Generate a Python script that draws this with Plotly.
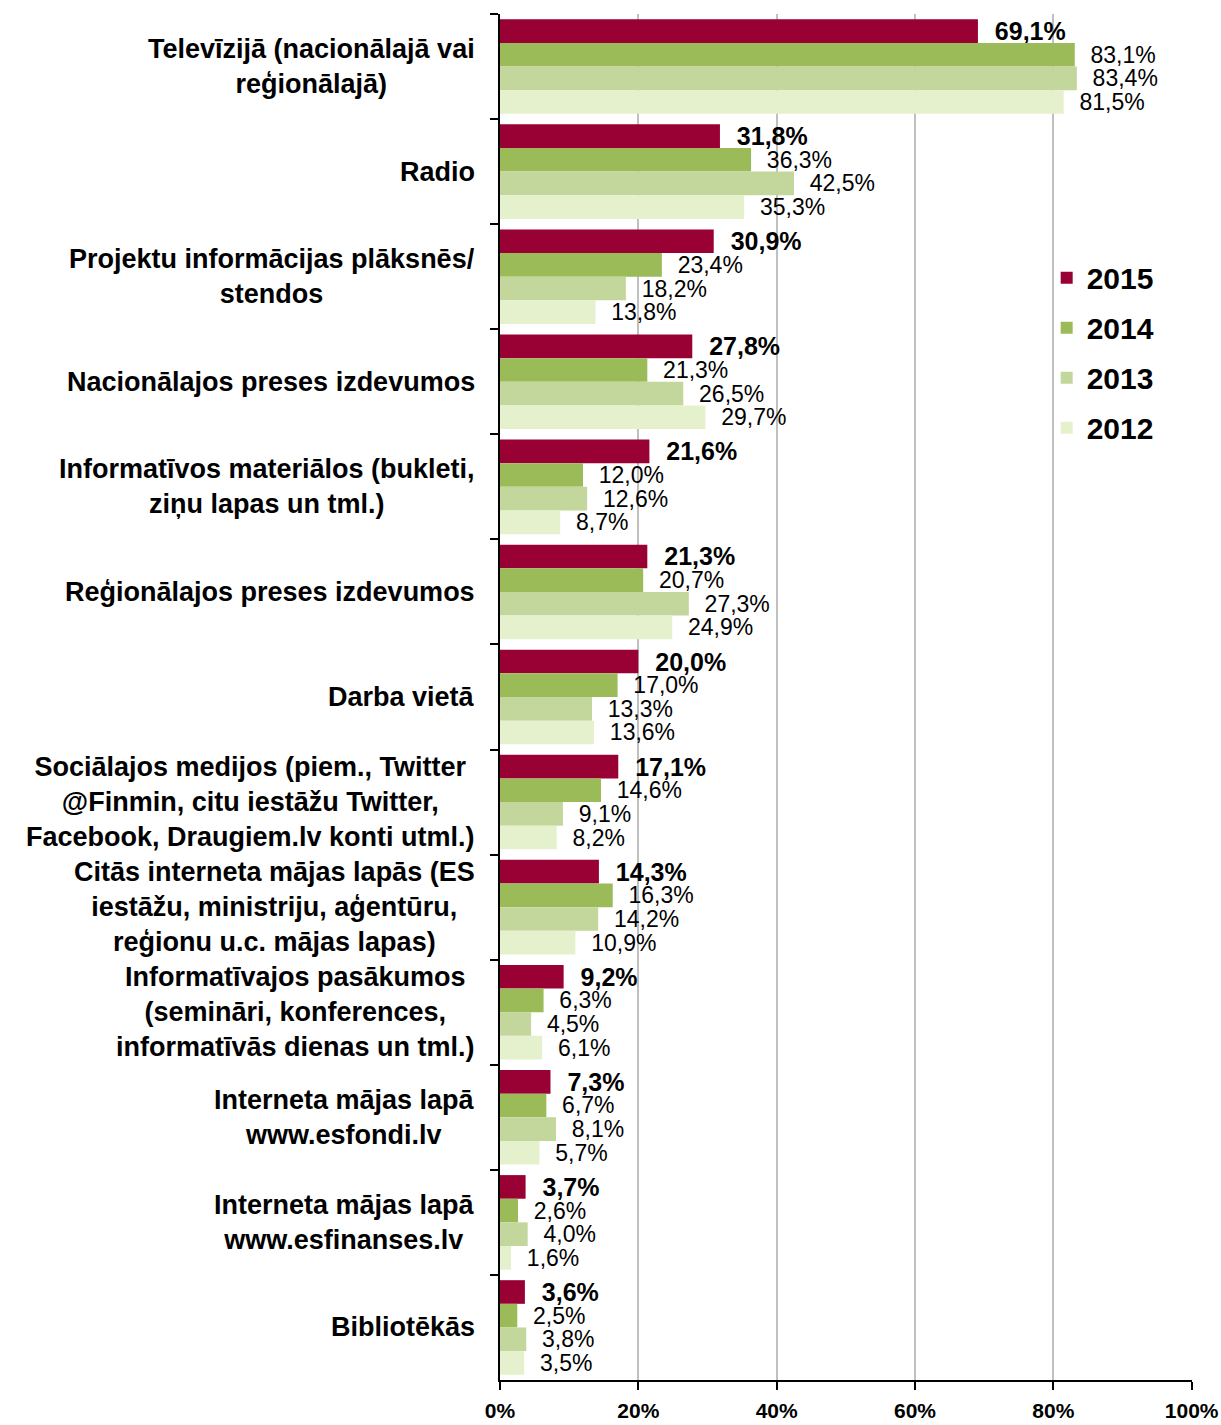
import plotly.graph_objects as go

categories = [
    "Televīzijā (nacionālajā vai<br>reģionālajā)",
    "Radio",
    "Projektu informācijas plāksnēs/<br>stendos",
    "Nacionālajos preses izdevumos",
    "Informatīvos materiālos (bukleti,<br>ziņu lapas un tml.)",
    "Reģionālajos preses izdevumos",
    "Darba vietā",
    "Sociālajos medijos (piem., Twitter<br>@Finmin, citu iestāžu Twitter,<br>Facebook, Draugiem.lv konti utml.)",
    "Citās interneta mājas lapās (ES<br>iestāžu, ministriju, aģentūru,<br>reģionu u.c. mājas lapas)",
    "Informatīvajos pasākumos<br>(semināri, konferences,<br>informatīvās dienas un tml.)",
    "Interneta mājas lapā<br>www.esfondi.lv",
    "Interneta mājas lapā<br>www.esfinanses.lv",
    "Bibliotēkās",
]

years = ["2015", "2014", "2013", "2012"]
v2015 = [69.1, 31.8, 30.9, 27.8, 21.6, 21.3, 20.0, 17.1, 14.3, 9.2, 7.3, 3.7, 3.6]
v2014 = [83.1, 36.3, 23.4, 21.3, 12.0, 20.7, 17.0, 14.6, 16.3, 6.3, 6.7, 2.6, 2.5]
v2013 = [83.4, 42.5, 18.2, 26.5, 12.6, 27.3, 13.3, 9.1, 14.2, 4.5, 8.1, 4.0, 3.8]
v2012 = [81.5, 35.3, 13.8, 29.7, 8.7, 24.9, 13.6, 8.2, 10.9, 6.1, 5.7, 1.6, 3.5]
series = [v2015, v2014, v2013, v2012]
colors = ["#990033", "#9BBB59", "#C3D69B", "#E4F1CC"]

x_ticks = [0, 20, 40, 60, 80, 100]

FONT = "Liberation Sans, Arial, sans-serif"

def fmt(v):
    return ("%.1f" % v).replace(".", ",") + "%"

fig = go.Figure()
for i, (yr, vals, col) in enumerate(zip(years, series, colors)):
    if i == 0:
        texts = ["  <b>" + fmt(v) + "</b>" for v in vals]
        tf = dict(family=FONT, size=25, color="black")
    else:
        texts = ["  " + fmt(v) for v in vals]
        tf = dict(family=FONT, size=23, color="black")
    fig.add_trace(go.Bar(
        y=categories, x=vals, orientation="h", name=yr,
        marker=dict(color=col, line=dict(width=0)),
        text=texts, textposition="outside", outsidetextfont=tf,
        constraintext="none", cliponaxis=False,
        legendgroup=yr, hoverinfo="skip",
    ))

annotations = []
for c in categories:
    annotations.append(dict(
        x=-0.033, xref="paper", y=c, yref="y", text="<b>" + c + "</b>",
        showarrow=False, xanchor="right", yanchor="middle", align="center",
        font=dict(family=FONT, size=27, color="black"),
    ))

fig.update_layout(
    width=1221, height=1425,
    margin=dict(l=500, r=29, t=14, b=45, autoexpand=False),
    paper_bgcolor="white", plot_bgcolor="white",
    barmode="group", bargap=0.1, bargroupgap=0,
    font=dict(family=FONT, color="black"),
    annotations=annotations,
    legend=dict(
        x=0.79, xanchor="left", y=0.826, yanchor="top",
        bgcolor="rgba(0,0,0,0)", traceorder="grouped", tracegroupgap=8,
        font=dict(family=FONT, size=30, color="black", weight="bold"),
    ),
    showlegend=True,
)
fig.update_xaxes(
    range=[0, 100.05], tickvals=x_ticks, ticktext=["<b>%d%%</b>" % t for t in x_ticks],
    showgrid=True, gridcolor="#c0c0c0", gridwidth=2, zeroline=False,
    showline=True, linecolor="black", linewidth=2,
    ticks="outside", ticklen=8, tickwidth=2, tickcolor="black",
    ticklabelstandoff=3, automargin=False,
    tickfont=dict(family="Liberation Sans Narrow, Arial Narrow, Liberation Sans, sans-serif", size=21, color="black"),
)
fig.update_yaxes(
    autorange="reversed", showticklabels=False, tickson="boundaries",
    ticks="outside", ticklen=8, tickwidth=2, tickcolor="black",
    showline=True, linecolor="black", linewidth=2, showgrid=False,
    automargin=False,
)

fig.write_html("out.html", config={"displayModeBar": False},
               post_script="document.body.style.margin='0';")
